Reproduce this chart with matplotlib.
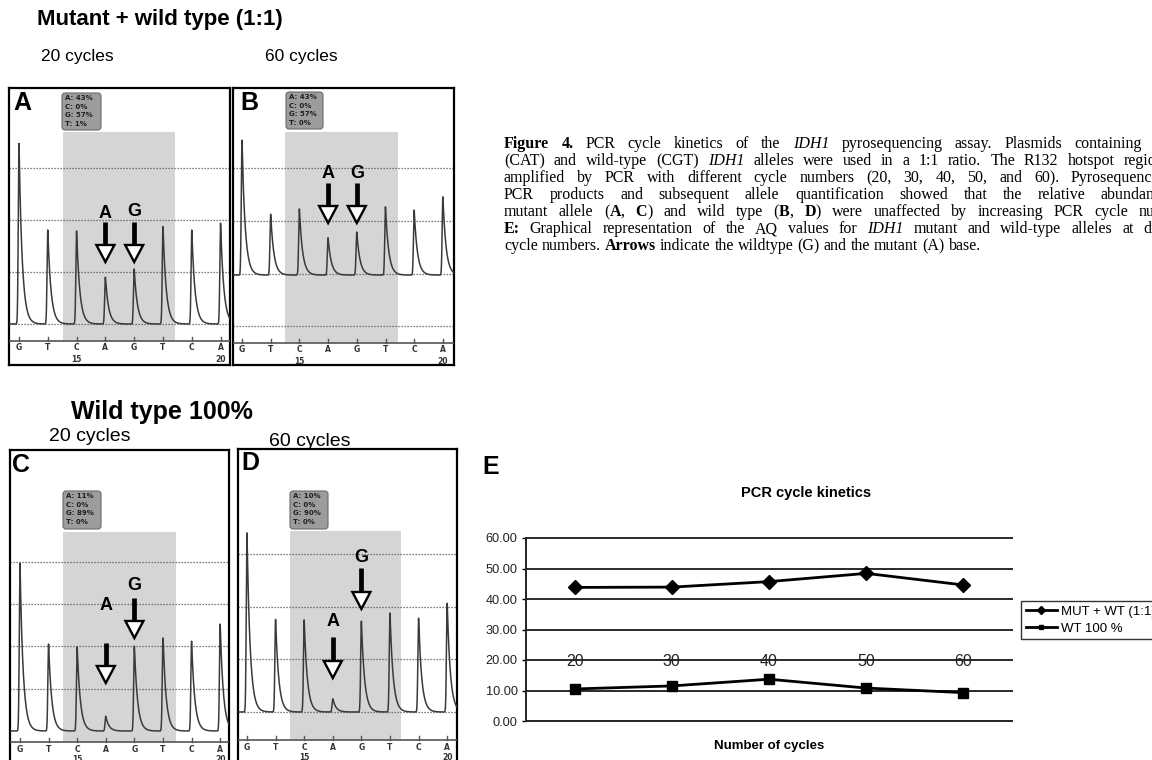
"""
Figure 4 redraw: IDH1 pyrosequencing, PCR cycle kinetics.
Four pyrograms (A-D), the AQ line chart (E) and the caption text.
"""
import matplotlib
matplotlib.use("Agg")
import matplotlib.pyplot as plt
import numpy as np
from matplotlib.patches import Rectangle, Polygon, FancyBboxPatch
from matplotlib.transforms import Affine2D, blended_transform_factory

W, H = 1152, 760

# ---- data -----------------------------------------------------------------
DISPENSATION = ["G", "T", "C", "A", "G", "T", "C", "A"]
POSITION_NUMBERS = {2: "15", 7: "20"}

# peak heights (grid units above trace baseline)
PEAKS_A = [3.48, 1.81, 1.79, 0.90, 1.06, 1.88, 1.81, 1.94]
PEAKS_B = [2.57, 1.16, 1.26, 0.71, 0.82, 1.30, 1.24, 1.49]
PEAKS_C = [3.97, 2.06, 1.99, 0.35, 2.01, 2.20, 2.13, 2.53]
PEAKS_D = [3.40, 1.76, 1.75, 0.25, 1.73, 1.88, 1.78, 2.07]
BASELINES = {"A": 0.0, "B": 0.97, "C": 0.0, "D": 0.0}

AQ_A = ["A: 43%", "C: 0%", "G: 57%", "T: 1%"]
AQ_B = ["A: 43%", "C: 0%", "G: 57%", "T: 0%"]
AQ_C = ["A: 11%", "C: 0%", "G: 89%", "T: 0%"]
AQ_D = ["A: 10%", "C: 0%", "G: 90%", "T: 0%"]

CYCLES = ["20", "30", "40", "50", "60"]
MUT_WT = [43.8, 43.9, 45.7, 48.4, 44.6]
WT_100 = [10.5, 11.5, 13.7, 10.8, 9.3]
E_YTICKS = [0, 10, 20, 30, 40, 50, 60]

CAPTION = [
    [("Figure 4.", "b"), ("  PCR cycle kinetics of the ", ""), ("IDH1", "i"),
     (" pyrosequencing assay. Plasmids containing mutant", "")],
    [("(CAT) and wild-type (CGT) ", ""), ("IDH1", "i"),
     (" alleles were used in a 1:1 ratio. The R132 hotspot region was", "")],
    [("amplified by PCR with different cycle numbers (20, 30, 40, 50, and 60). "
      "Pyrosequencing of", "")],
    [("PCR products and subsequent allele quantification showed that the "
      "relative abundance of", "")],
    [("mutant allele (", ""), ("A", "b"), (", ", ""), ("C", "b"), (") and wild type (", ""),
     ("B", "b"), (", ", ""), ("D", "b"),
     (") were unaffected by increasing PCR cycle numbers.", "")],
    [("E:", "b"), (" Graphical representation of the AQ values for ", ""), ("IDH1", "i"),
     (" mutant and wild-type alleles at different", "")],
    [("cycle numbers. ", ""), ("Arrows", "b"),
     (" indicate the wildtype (G) and the mutant (A) base.", "")],
]

# ---- layout (pixels, y measured from the top) -------------------------------
PANELS = {
    "A": dict(box=(9, 88, 230, 365), x0=19, dx=28.8, y0=324, dy=52, grid=[0, 1, 2, 3],
              shade=(63, 175, 132), info=(62, 93, 101, 130), axis_y=341,
              arrows=[(3, "A", 213, 222, 262), (4, "G", 211, 222, 262)],
              letter=(13, 91), peaks=PEAKS_A, aq=AQ_A),
    "B": dict(box=(233, 88, 454, 365), x0=242, dx=28.7, y0=326, dy=52.5, grid=[0, 1, 2, 3],
              shade=(285, 398, 132), info=(286, 92, 323, 129), axis_y=343,
              arrows=[(3, "A", 173, 183, 223), (4, "G", 173, 183, 223)],
              letter=(240, 91), peaks=PEAKS_B, aq=AQ_B),
    "C": dict(box=(10, 450, 229, 775), x0=20, dx=28.6, y0=731, dy=42.3, grid=[1, 2, 3, 4],
              shade=(63, 176, 532), info=(63, 491, 101, 529), axis_y=742,
              arrows=[(3, "A", 606, 643, 683), (4, "G", 585, 598, 638)],
              letter=(12, 453), peaks=PEAKS_C, aq=AQ_C),
    "D": dict(box=(238, 449, 457, 775), x0=247, dx=28.6, y0=712, dy=52.7, grid=[0, 1, 2, 3],
              shade=(290, 401, 531), info=(290, 491, 328, 529), axis_y=740,
              arrows=[(3, "A", 621, 637, 678), (4, "G", 557, 568, 609)],
              letter=(241, 451), peaks=PEAKS_D, aq=AQ_D),
}

plt.rcParams["font.family"] = ["Liberation Sans", "DejaVu Sans"]
fig = plt.figure(figsize=(W / 100, H / 100), dpi=100)
pxT = Affine2D().scale(1.0 / W, -1.0 / H).translate(0, 1) + fig.transFigure


def fig_text(x, y, s, **kw):
    return fig.text(x / W, 1 - y / H, s, **kw)


def pyrogram(name, p):
    l, t, r, b = p["box"]
    ax = fig.add_axes([l / W, 1 - b / H, (r - l) / W, (b - t) / H])
    xlim = ((l - p["x0"]) / p["dx"], (r - p["x0"]) / p["dx"])
    ax.set_xlim(*xlim)
    ax.set_ylim((p["y0"] - b) / p["dy"], (p["y0"] - t) / p["dy"])
    ax.set_xticks([])
    ax.set_yticks([])
    for s in ax.spines.values():
        s.set_linewidth(1.6)
        s.set_color("black")
    blend = blended_transform_factory(ax.transData, pxT)

    # grey window over the analysed positions
    sl, sr, st = p["shade"]
    ax.add_patch(Rectangle((sl, st), sr - sl, p["axis_y"] - st, transform=pxT,
                           fc="#d5d5d5", ec="none", zorder=1))
    for g in p["grid"]:
        ax.axhline(g, color="#555555", lw=0.9, ls=(0, (1, 1.4)), zorder=2)

    # pyrogram trace
    xs = np.linspace(xlim[0], xlim[1], 3000)
    ys = np.full_like(xs, BASELINES[name])
    for i, h in enumerate(p["peaks"]):
        u = xs - i
        ys += h * np.where(u >= 0, np.exp(-np.clip(u, 0, None) / 0.11),
                           np.exp(-0.5 * (u / 0.025) ** 2))
    ax.plot(xs, ys, color="#3a3a3a", lw=1.1, zorder=3)

    # dispensation axis
    ay = p["axis_y"]
    ax.plot([l, r], [ay, ay], transform=pxT, color="#555555", lw=1.2, zorder=3)
    for i, base in enumerate(DISPENSATION):
        ax.plot([i, i], [ay - 4, ay], transform=blend, color="#555555", lw=1.0, zorder=3)
        ax.text(i, ay + 7, base, transform=blend, ha="center", va="center",
                fontsize=5.5, fontweight="bold", color="#333333", family="DejaVu Sans")
        if i in POSITION_NUMBERS:
            ax.text(i, ay + 18, POSITION_NUMBERS[i], transform=blend, ha="center",
                    va="center", fontsize=5.5, fontweight="bold", color="#333333",
                    family="DejaVu Sans", clip_on=False)

    # AQ result box
    il, it, ir, ib = p["info"]
    ax.add_patch(FancyBboxPatch((il, it), ir - il, ib - it, transform=pxT,
                                boxstyle="round,pad=0,rounding_size=3",
                                fc="#9c9c9c", ec="#6a6a6a", lw=0.8, zorder=4))
    for k, line in enumerate(p["aq"]):
        ax.text(il + 3, it + 5 + k * 8.6, line, transform=pxT, va="center", ha="left",
                fontsize=5.0, fontweight="bold", color="#1e1e1e",
                family="DejaVu Sans", zorder=5)

    # arrows for the mutant / wild-type base
    hw = 9.0 / p["dx"]
    for pos, lab, ly, top, tip in p["arrows"]:
        hb = tip - 17
        ax.plot([pos, pos], [top, hb], transform=blend, color="black", lw=3.4,
                solid_capstyle="butt", zorder=6)
        ax.add_patch(Polygon([(pos - hw, hb), (pos + hw, hb), (pos, tip)], closed=True,
                             transform=blend, fc="white", ec="black", lw=1.7,
                             joinstyle="miter", zorder=7))
        ax.text(pos, ly, lab, transform=blend, ha="center", va="center",
                fontsize=13, fontweight="bold", zorder=7)

    lx, ly = p["letter"]
    fig_text(lx, ly, name, ha="left", va="top", fontsize=18, fontweight="bold")


for name, p in PANELS.items():
    pyrogram(name, p)

fig_text(160, 19, "Mutant + wild type (1:1)", ha="center", va="center",
         fontsize=16, fontweight="bold")
fig_text(77, 57, "20 cycles", ha="center", va="center", fontsize=12.5)
fig_text(301, 57, "60 cycles", ha="center", va="center", fontsize=12.5)
fig_text(162, 412, "Wild type 100%", ha="center", va="center",
         fontsize=18, fontweight="bold")
fig_text(90, 437, "20 cycles", ha="center", va="center", fontsize=14)
fig_text(310, 441, "60 cycles", ha="center", va="center", fontsize=14)

# ---- panel E -----------------------------------------------------------------
axE = fig.add_axes([526 / W, 1 - 721 / H, (1012 - 526) / W, (721 - 538) / H])
xpos = np.arange(len(CYCLES))
axE.plot(xpos, MUT_WT, color="black", lw=2.0, marker="D", ms=7.5, label="MUT + WT (1:1)",
         zorder=4)
axE.plot(xpos, WT_100, color="black", lw=2.0, marker="s", ms=6.5, label="WT 100 %",
         zorder=4)
axE.set_xlim(-0.5, len(CYCLES) - 0.5)
axE.set_ylim(E_YTICKS[0], E_YTICKS[-1])
axE.set_yticks(E_YTICKS)
axE.set_yticklabels([f"{v:.2f}" for v in E_YTICKS], fontsize=9.2, color="#222222")
axE.set_xticks([])
axE.tick_params(axis="y", length=3, width=1.0, pad=3)
for v in E_YTICKS[1:]:
    axE.axhline(v, color="#2a2a2a", lw=1.4, zorder=1, clip_on=False)
for s in ["top", "right"]:
    axE.spines[s].set_visible(False)
for s in ["left", "bottom"]:
    axE.spines[s].set_linewidth(1.4)
    axE.spines[s].set_color("#222222")
for i, c in enumerate(CYCLES):
    axE.text(i, 19.5, c, ha="center", va="center", fontsize=11.5, color="#222222", zorder=5)

leg = axE.legend(loc="center left", bbox_to_anchor=(1021 / W, 1 - 620 / H),
                 bbox_transform=fig.transFigure, frameon=True, fancybox=False,
                 edgecolor="black", fontsize=9.5, handlelength=2.4, borderpad=0.35,
                 labelspacing=0.35, handletextpad=0.25, borderaxespad=0, markerscale=0.55)
leg.get_frame().set_linewidth(1.0)

fig_text(482, 455, "E", ha="left", va="top", fontsize=18, fontweight="bold")
fig_text(806, 493, "PCR cycle kinetics", ha="center", va="center", fontsize=10.5,
         fontweight="bold")
fig_text(769, 746, "Number of cycles", ha="center", va="center", fontsize=9.5,
         fontweight="bold")


# ---- caption (justified, running off the right edge like the source) ---------
def tokenize(segments):
    tokens = [[]]
    for text, style in segments:
        for k, part in enumerate(text.split(" ")):
            if k > 0:
                tokens.append([])
            if part:
                tokens[-1].append((part, style))
    return [t for t in tokens if t]


renderer = fig.canvas.get_renderer()
CAP_LEFT, CAP_RIGHT, CAP_TOP, CAP_STEP = 504, 1198, 148, 17


def cap_text(x, y, s, style):
    kw = dict(family="Liberation Serif", fontsize=11.5, va="baseline", ha="left")
    if "b" in style:
        kw["fontweight"] = "bold"
    if "i" in style:
        kw["fontstyle"] = "italic"
    return fig_text(x, y, s, **kw)


# width of a plain space, measured once and then thrown away
probe = cap_text(0, 300, "a a", "")
probe2 = cap_text(0, 300, "aa", "")
space_w = probe.get_window_extent(renderer).width - probe2.get_window_extent(renderer).width
probe.remove()
probe2.remove()

for row, segs in enumerate(CAPTION):
    y = CAP_TOP + row * CAP_STEP
    tokens = tokenize(segs)
    placed = []
    for tok in tokens:
        parts, x = [], 0.0
        for s, style in tok:
            t = cap_text(0, y, s, style)
            w = t.get_window_extent(renderer).width
            parts.append((t, x))
            x += w
        placed.append((parts, x))
    total = sum(w for _, w in placed)
    last = row == len(CAPTION) - 1
    gap = space_w if last else (CAP_RIGHT - CAP_LEFT - total) / (len(placed) - 1)
    x = CAP_LEFT
    for parts, w in placed:
        for t, off in parts:
            t.set_x((x + off) / W)
        x += w + gap

fig.savefig("out.png", dpi=100)
